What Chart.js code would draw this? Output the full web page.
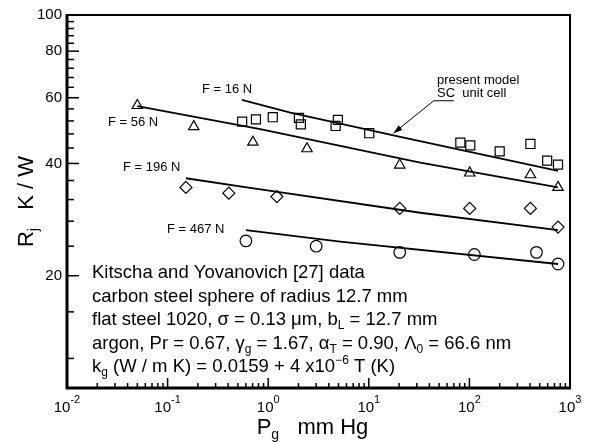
<!DOCTYPE html>
<html>
<head>
<meta charset="utf-8">
<script src="https://cdn.jsdelivr.net/npm/chart.js@4.4.1/dist/chart.umd.min.js"></script>
<style>
  html, body { margin: 0; padding: 0; background: #fff; }
</style>
</head>
<body>
<canvas id="chart" width="594" height="442"></canvas>
<script>
// measured data, Kitscha and Yovanovich (P_g in mm Hg, R_j in K/W)
const p16 = [0.551, 0.755, 1.11, 2.02, 2.11, 4.93, 4.68, 10.1, 81.3, 102, 200, 404, 593, 760];
const r16 = [51.8, 52.5, 53.2, 53.0, 50.9, 52.3, 50.4, 48.2, 45.5, 44.7, 43.1, 45.1, 40.7, 39.7];
const p56 = [0.05, 0.182, 0.705, 2.43, 20.3, 100.7, 404, 760];
const r56 = [57.2, 50.2, 45.6, 43.8, 39.6, 37.7, 37.3, 34.5];
const p196 = [0.152, 0.406, 1.22, 20.3, 100.7, 404, 760];
const r196 = [34.5, 33.3, 32.6, 30.3, 30.3, 30.3, 27.0];
const p467 = [0.60, 3.0, 20.3, 112, 464, 760];
const r467 = [24.8, 24.0, 23.1, 22.8, 23.1, 21.5];

// present model, SC unit cell
const m16P = [0.547, 1.66, 20, 760];
const m16R = [59.2, 54.7, 47.2, 38.2];
const m56P = [0.05, 0.832, 32.5, 760];
const m56R = [57.0, 49.4, 40.2, 34.5];
const m196P = [0.152, 0.662, 32.5, 760];
const m196R = [36.5, 34.4, 29.5, 26.5];
const m467P = [0.60, 5.2, 760];
const m467R = [26.5, 24.7, 21.5];

// axes
const xDecades = [-2, -1, 0, 1, 2, 3];
const yTicks = [12, 16, 20, 24, 28, 32, 36, 40, 44, 48, 52, 56, 60, 64, 68, 72, 76, 80, 84, 88, 92, 96, 100];
const yLabels = [20, 40, 60, 80, 100];

// arrow to the model curve: tip, elbow, end of the underline
const arrowP = [17.6, 44.2, 69.8];
const arrowR = [48.2, 58.9, 58.9];

const FONT = '"Liberation Sans", Arial, sans-serif';

function zip(xs, ys) {
  return xs.map((v, i) => ({ x: v, y: ys[i] }));
}

function markers(xs, ys, style, radius) {
  return {
    data: zip(xs, ys),
    showLine: false,
    pointStyle: style,
    pointRadius: radius,
    pointBorderColor: '#000',
    pointBackgroundColor: 'rgba(0,0,0,0)',
    pointBorderWidth: 1.2
  };
}

function model(xs, ys) {
  return {
    data: zip(xs, ys),
    showLine: true,
    borderColor: '#000',
    borderWidth: 1.8,
    pointRadius: 0,
    tension: 0
  };
}

// draw text made of pieces [text, size, dy]
function rich(ctx, x, y, parts, align) {
  let w = 0;
  parts.forEach(p => { ctx.font = p[1] + 'px ' + FONT; w += ctx.measureText(p[0]).width; });
  let cx = align === 'center' ? x - w / 2 : x;
  parts.forEach(p => {
    ctx.font = p[1] + 'px ' + FONT;
    ctx.fillText(p[0], cx, y + (p[2] || 0));
    cx += ctx.measureText(p[0]).width;
  });
}

const decorations = {
  id: 'decorations',
  afterDraw(chart) {
    const { ctx, chartArea: a } = chart;
    const x = chart.scales.x, y = chart.scales.y;
    ctx.save();
    ctx.strokeStyle = '#000';
    ctx.fillStyle = '#000';

    // frame
    ctx.lineWidth = 2;
    ctx.strokeRect(a.left, a.top, a.right - a.left, a.bottom - a.top);
    ctx.lineWidth = 3;
    ctx.beginPath();
    ctx.moveTo(a.left, a.top - 1);
    ctx.lineTo(a.left, a.bottom);
    ctx.lineTo(a.right + 1, a.bottom);
    ctx.stroke();

    // y ticks and labels
    ctx.lineWidth = 1.5;
    ctx.textAlign = 'right';
    ctx.textBaseline = 'middle';
    ctx.font = '15px ' + FONT;
    yTicks.forEach(v => {
      const py = y.getPixelForValue(v);
      const major = yLabels.includes(v);
      ctx.beginPath();
      ctx.moveTo(a.left, py);
      ctx.lineTo(a.left + (major ? 12 : 7), py);
      ctx.stroke();
      if (major) ctx.fillText(String(v), a.left - 5, py);
    });

    // x ticks and labels
    ctx.textAlign = 'left';
    ctx.textBaseline = 'alphabetic';
    xDecades.forEach(d => {
      const px = x.getPixelForValue(Math.pow(10, d));
      ctx.beginPath();
      ctx.moveTo(px, a.bottom);
      ctx.lineTo(px, a.bottom - 10);
      ctx.stroke();
      const ex = d < 0 ? '-' + (-d) : String(d);
      rich(ctx, px, a.bottom + 24, [['10', 15, 0], [ex, 11, -9]], 'center');
      if (d < 3) {
        for (let m = 2; m <= 9; m++) {
          const pm = x.getPixelForValue(m * Math.pow(10, d));
          ctx.beginPath();
          ctx.moveTo(pm, a.bottom);
          ctx.lineTo(pm, a.bottom - 5);
          ctx.stroke();
        }
      }
    });

    // axis titles
    rich(ctx, (a.left + a.right) / 2 - 6, 434, [['P', 22, 0], ['g', 14, 5], ['   mm Hg', 22, 0]], 'center');
    ctx.save();
    ctx.translate(33, (a.top + a.bottom) / 2);
    ctx.rotate(-Math.PI / 2);
    rich(ctx, 0, 0, [['R', 22, 0], ['j', 14, 5], ['   K / W', 22, 0]], 'center');
    ctx.restore();

    // curve labels
    ctx.font = '13px ' + FONT;
    ctx.fillText('F = 16 N', 202, 92.5);
    ctx.fillText('F = 56 N', 108, 126);
    ctx.fillText('F = 196 N', 123, 171);
    ctx.fillText('F = 467 N', 167, 233);
    ctx.fillText('present model', 437, 84);
    ctx.fillText('SC  unit cell', 437, 97);

    // leader line with arrow head
    const pts = arrowP.map((v, i) => [x.getPixelForValue(v), y.getPixelForValue(arrowR[i])]);
    ctx.lineWidth = 1;
    ctx.beginPath();
    ctx.moveTo(pts[2][0], pts[2][1]);
    ctx.lineTo(pts[1][0], pts[1][1]);
    ctx.lineTo(pts[0][0], pts[0][1]);
    ctx.stroke();
    const ang = Math.atan2(pts[0][1] - pts[1][1], pts[0][0] - pts[1][0]);
    ctx.beginPath();
    ctx.moveTo(pts[0][0], pts[0][1]);
    ctx.lineTo(pts[0][0] - 9 * Math.cos(ang) + 3 * Math.sin(ang), pts[0][1] - 9 * Math.sin(ang) - 3 * Math.cos(ang));
    ctx.lineTo(pts[0][0] - 9 * Math.cos(ang) - 3 * Math.sin(ang), pts[0][1] - 9 * Math.sin(ang) + 3 * Math.cos(ang));
    ctx.closePath();
    ctx.fill();

    // data description
    const s = 18.5, sub = 12;
    rich(ctx, 92, 278, [['Kitscha and Yovanovich [27] data', s, 0]]);
    rich(ctx, 92, 301.5, [['carbon steel sphere of radius 12.7 mm', s, 0]]);
    rich(ctx, 92, 325, [['flat steel 1020, \u03c3 = 0.13 \u03bcm, b', s, 0], ['L', sub, 4], [' = 12.7 mm', s, 0]]);
    rich(ctx, 92, 348.5, [['argon, Pr = 0.67, \u03b3', s, 0], ['g', sub, 4], [' = 1.67, \u03b1', s, 0], ['T', sub, 4],
      [' = 0.90, \u039b', s, 0], ['0', sub, 4], [' = 66.6 nm', s, 0]]);
    rich(ctx, 92, 372, [['k', s, 0], ['g', sub, 4], [' (W / m K) = 0.0159 + 4 x10', s, 0], ['\u22126', sub, -8], [' T (K)', s, 0]]);

    ctx.restore();
  }
};

new Chart(document.getElementById('chart'), {
  type: 'scatter',
  data: {
    datasets: [
      markers(p16, r16, 'rect', 6.4),
      markers(p56, r56, 'triangle', 6),
      markers(p196, r196, 'rectRot', 6),
      markers(p467, r467, 'circle', 5.8),
      model(m16P, m16R),
      model(m56P, m56R),
      model(m196P, m196R),
      model(m467P, m467R)
    ]
  },
  options: {
    responsive: false,
    animation: false,
    layout: { padding: { left: 67, right: 24, top: 15, bottom: 54 } },
    plugins: { legend: { display: false }, tooltip: { enabled: false } },
    scales: {
      x: { type: 'logarithmic', min: 0.01, max: 1000, display: false },
      y: { type: 'logarithmic', min: 10, max: 100, display: false }
    }
  },
  plugins: [decorations]
});
</script>
</body>
</html>
